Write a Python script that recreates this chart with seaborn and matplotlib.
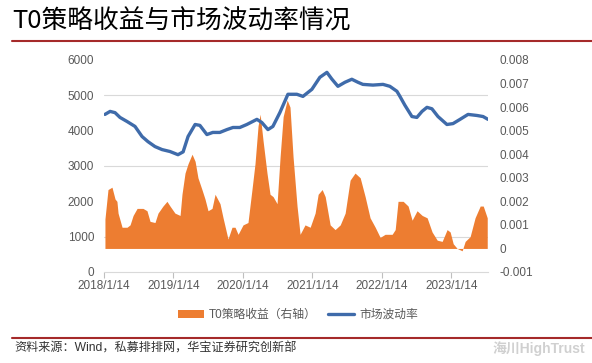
import pandas as pd
import numpy as np
import seaborn as sns
import matplotlib.pyplot as plt
from matplotlib.patches import Patch
from matplotlib.lines import Line2D
from matplotlib.ticker import FixedLocator, FuncFormatter

# T0 strategy return (right axis)
t0_dates = ['2018-01-19', '2018-02-04', '2018-02-25', '2018-03-13', '2018-03-23', '2018-03-29',
            '2018-04-19', '2018-05-15', '2018-05-31', '2018-06-16', '2018-07-07', '2018-08-07',
            '2018-08-28', '2018-09-13', '2018-10-09', '2018-10-25', '2018-11-20', '2018-12-11',
            '2018-12-27', '2019-01-22', '2019-02-18', '2019-02-28', '2019-03-16', '2019-04-01',
            '2019-04-22', '2019-05-08', '2019-05-23', '2019-06-13', '2019-06-29', '2019-07-15',
            '2019-08-05', '2019-08-21', '2019-09-16', '2019-10-02', '2019-10-28', '2019-11-18',
            '2019-12-04', '2019-12-20', '2020-01-15', '2020-02-10', '2020-03-02', '2020-03-18',
            '2020-04-03', '2020-04-14', '2020-04-29', '2020-05-20', '2020-06-05', '2020-06-21',
            '2020-07-12', '2020-07-28', '2020-08-13', '2020-09-03', '2020-09-18', '2020-10-04',
            '2020-10-25', '2020-11-10', '2020-12-06', '2021-01-02', '2021-01-28', '2021-02-13',
            '2021-03-06', '2021-03-22', '2021-04-17', '2021-05-13', '2021-06-09', '2021-07-05',
            '2021-07-31', '2021-08-26', '2021-09-22', '2021-10-18', '2021-11-13', '2021-12-10',
            '2022-01-05', '2022-01-31', '2022-03-09', '2022-03-25', '2022-04-09', '2022-05-06',
            '2022-06-01', '2022-06-22', '2022-07-18', '2022-08-14', '2022-09-09', '2022-10-05',
            '2022-11-01', '2022-11-27', '2022-12-23', '2023-01-08', '2023-01-24', '2023-02-14',
            '2023-03-12', '2023-03-28', '2023-04-23', '2023-05-19', '2023-06-15', '2023-07-01',
            '2023-07-22']
t0_return = [0.00125, 0.0025, 0.0026, 0.0021, 0.0020, 0.0015,
             0.0009, 0.0009, 0.0010, 0.0014, 0.0017, 0.0017,
             0.0016, 0.00115, 0.0011, 0.0015, 0.0018, 0.0020,
             0.0018, 0.0015, 0.0014, 0.0023, 0.0032, 0.0036,
             0.0040, 0.0037, 0.0030, 0.0025, 0.0021, 0.0016,
             0.0017, 0.0023, 0.0019, 0.0013, 0.0004, 0.0009,
             0.0009, 0.0006, 0.0010, 0.0011, 0.0025, 0.0036,
             0.0052, 0.0057, 0.0046, 0.0032, 0.0023, 0.0022,
             0.0019, 0.0039, 0.0056, 0.0063, 0.0060, 0.0039,
             0.0018, 0.0006, 0.0010, 0.0009, 0.0015, 0.0023,
             0.0025, 0.0022, 0.0010, 0.0008, 0.0010, 0.0015,
             0.0029, 0.0032, 0.0030, 0.0022, 0.0013, 0.0009,
             0.00047, 0.0006, 0.0006, 0.0008, 0.0020, 0.0020,
             0.0018, 0.0012, 0.0016, 0.0014, 0.0013, 0.0007,
             0.00035, 0.0003, 0.0008, 0.0007, 0.0002, 0.0,
             -0.0001, 0.0003, 0.0005, 0.0013, 0.0018, 0.0018,
             0.0013]

# market volatility (left axis)
vol_dates = ['2018-01-19', '2018-02-15', '2018-03-13', '2018-04-08', '2018-05-15', '2018-06-26',
             '2018-08-02', '2018-09-02', '2018-10-09', '2018-11-15', '2018-12-27', '2019-02-07',
             '2019-03-06', '2019-04-01', '2019-05-08', '2019-06-02', '2019-07-09', '2019-08-09',
             '2019-09-15', '2019-10-22', '2019-11-23', '2019-12-29', '2020-02-04', '2020-03-28',
             '2020-04-23', '2020-05-25', '2020-06-20', '2020-07-27', '2020-09-07', '2020-10-24',
             '2020-11-25', '2021-01-11', '2021-02-22', '2021-03-31', '2021-04-26', '2021-05-28',
             '2021-07-04', '2021-08-09', '2021-09-10', '2021-10-06', '2021-11-28', '2022-01-20',
             '2022-02-25', '2022-04-03', '2022-04-19', '2022-05-15', '2022-06-21', '2022-07-17',
             '2022-08-13', '2022-09-08', '2022-10-04', '2022-11-05', '2022-12-22', '2023-01-23',
             '2023-03-01', '2023-04-12', '2023-05-29', '2023-06-30', '2023-07-26']
volatility = [4460, 4545, 4510, 4375, 4260, 4120,
              3835, 3690, 3550, 3465, 3410, 3320,
              3400, 3835, 4175, 4150, 3890, 3950,
              3950, 4030, 4090, 4090, 4175, 4320,
              4230, 4030, 4120, 4515, 5030, 5030,
              4970, 5170, 5510, 5650, 5460, 5255,
              5370, 5455, 5370, 5310, 5290, 5310,
              5255, 5115, 4970, 4720, 4400, 4375,
              4545, 4660, 4620, 4400, 4175, 4200,
              4320, 4460, 4430, 4400, 4320]

tick_dates = ['2018-01-14', '2019-01-14', '2020-01-14', '2021-01-14', '2022-01-14', '2023-01-14']
tick_labels = ['2018/1/14', '2019/1/14', '2020/1/14', '2021/1/14', '2022/1/14', '2023/1/14']

ORANGE = '#ED7D31'
BLUE = '#3F6BAA'
GRAY = '#595959'

sns.set_theme(style='white')
plt.rcParams['font.family'] = ['Liberation Sans', 'Noto Sans CJK SC', 'DejaVu Sans']

df_t0 = pd.DataFrame({'date': pd.to_datetime(t0_dates), 'ret': t0_return})
df_vol = pd.DataFrame({'date': pd.to_datetime(vol_dates), 'vol': volatility})

fig = plt.figure(figsize=(5.92, 3.63), dpi=100)
ax = fig.add_axes([104 / 592, 1 - 272 / 363, 384 / 592, 212 / 363])
ax2 = ax.twinx()
ax.set_zorder(ax2.get_zorder() + 1)
ax.patch.set_visible(False)

# right axis: orange area + grid (grid at left-axis ticks)
ax2.fill_between(df_t0['date'], 0, df_t0['ret'], color=ORANGE, linewidth=0, zorder=2)
ax2.set_ylim(-0.001, 0.008)
ax2.set_yticks(np.arange(-0.001, 0.0081, 0.001))
ax2.yaxis.set_major_formatter(FuncFormatter(lambda v, p: '0' if abs(v) < 1e-9 else f'{v:.3f}'))
left_ticks = np.arange(0, 6001, 1000)
ax2.yaxis.set_minor_locator(FixedLocator(-0.001 + left_ticks / 6000 * 0.009))
ax2.grid(which='minor', axis='y', color='#d9d9d9', linewidth=0.8, zorder=0)
ax2.grid(which='major', visible=False)
ax2.set_axisbelow(True)
ax2.tick_params(axis='y', which='both', length=0, pad=8, labelsize=8.5, labelcolor=GRAY)

# left axis: blue line
sns.lineplot(data=df_vol, x='date', y='vol', ax=ax, color=BLUE, linewidth=2.4)
ax.set_ylim(0, 6000)
ax.set_yticks(left_ticks)
ax.set_ylabel('')
ax.set_xlabel('')
ax.tick_params(axis='y', length=0, pad=7, labelsize=8.5, labelcolor=GRAY)

ax.set_xlim(pd.Timestamp('2018-01-14'), pd.Timestamp('2023-07-26'))
ax.set_xticks(pd.to_datetime(tick_dates))
ax.set_xticklabels(tick_labels)
ax.tick_params(axis='x', length=4, width=0.8, color='#bfbfbf', direction='out',
               pad=2, labelsize=8.5, labelcolor=GRAY, bottom=True)

for a in (ax, ax2):
    for s in ['top', 'left', 'right', 'bottom']:
        a.spines[s].set_visible(False)
ax.spines['bottom'].set_visible(True)
ax.spines['bottom'].set_color('#d9d9d9')
ax.spines['bottom'].set_linewidth(0.8)

# title and red rules
fig.text(12 / 592, 1 - 22 / 363, 'T0策略收益与市场波动率情况', fontsize=18.5, color='black',
         ha='left', va='center', family=['Noto Sans CJK SC', 'DejaVu Sans'], fontweight='medium')
fig.add_artist(Line2D([12 / 592, 1], [1 - 41 / 363] * 2, color='#A52A2A', linewidth=1.5))
fig.add_artist(Line2D([12 / 592, 1], [1 - 338 / 363] * 2, color='#A52A2A', linewidth=1.5))

# legend
handles = [Patch(facecolor=ORANGE, edgecolor='none'),
           Line2D([0], [0], color=BLUE, linewidth=2.4)]
leg = fig.legend(handles, ['T0策略收益（右轴）', '市场波动率'], loc='center',
                 bbox_to_anchor=(298 / 592, 1 - 315 / 363), ncol=2, frameon=False,
                 fontsize=8.5, handlelength=2.2, handleheight=0.6, columnspacing=1.0,
                 handletextpad=0.4)
for t in leg.get_texts():
    t.set_color(GRAY)

# source and watermark
fig.text(14 / 592, 1 - 349 / 363, '资料来源：Wind，私募排排网，华宝证券研究创新部', fontsize=8.7,
         color='#333333', ha='left', va='center')
fig.text(585 / 592, 1 - 349 / 363, '海川HighTrust', fontsize=10, color='#d0d0d0',
         ha='right', va='center', fontweight='bold')

fig.savefig('out.png', dpi=100)
